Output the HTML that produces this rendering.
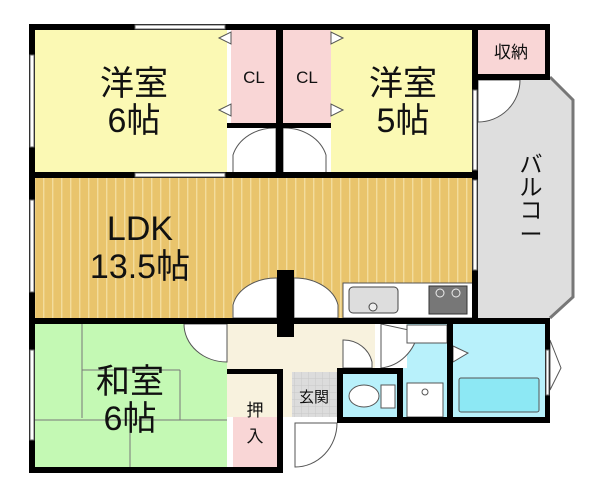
<!DOCTYPE html>
<html><head><meta charset="utf-8"><style>
html,body{margin:0;padding:0;background:#fff;width:600px;height:492px;overflow:hidden}
svg{display:block}
text{font-family:"Liberation Sans","Noto Sans CJK JP",sans-serif;fill:#111}
</style></head><body>
<svg width="600" height="492" viewBox="0 0 600 492" xmlns="http://www.w3.org/2000/svg">
<defs>
<pattern id="st" width="9" height="10" patternUnits="userSpaceOnUse">
<rect width="9" height="10" fill="#e9c46c"/><rect x="7" width="1.4" height="10" fill="#f3dc9c"/>
</pattern>
<pattern id="tile" width="7" height="7" patternUnits="userSpaceOnUse">
<rect width="7" height="7" fill="#dcdcdc"/><path d="M0 0H7M0 0V7" stroke="#c8c8c8" stroke-width="1"/>
</pattern>
</defs>
<!-- balcony -->
<polygon points="478,77 550,77 573,100 573,297 550,318 478,318" fill="#dedede"/>
<polyline points="550,77 573,100 573,297 550,318" fill="none" stroke="#777" stroke-width="3"/>
<!-- rooms -->
<rect x="35" y="30" width="192" height="143" fill="#fbf9b4"/>
<rect x="331" y="30" width="142" height="143" fill="#fbf9b4"/>
<rect x="231" y="30" width="45" height="94" fill="#f9d6d6"/>
<rect x="283" y="30" width="48" height="94" fill="#f9d6d6"/>
<rect x="478" y="30" width="67" height="45" fill="#f9d6d6"/>
<rect x="35" y="177" width="438" height="142" fill="url(#st)"/>
<rect x="35" y="324" width="192" height="144" fill="#c4f9b4"/>
<path d="M82 324V418M180 370V420M82 370H180M35 420H227M130 420V468" stroke="#777" stroke-width="1"/>
<rect x="233" y="374" width="44" height="94" fill="#f9d6d6"/>
<rect x="227" y="324" width="148" height="93" fill="#f8f2de"/>
<rect x="292" y="372" width="45" height="45" fill="url(#tile)"/>
<rect x="343" y="374" width="54" height="44" fill="#b8f1fb"/>
<rect x="381" y="324" width="66" height="94" fill="#b8f1fb"/>
<rect x="381" y="324" width="26" height="44" fill="#fff"/>
<rect x="453" y="324" width="92" height="94" fill="#b8f1fb"/>
<!-- door arcs -->
<g fill="#fff" stroke="#555" stroke-width="1">
<path d="M233 173V155A43 37 0 0 1 276 128V173Z"/>
<path d="M283 173V128A43 37 0 0 1 326 155V173Z"/>
<path d="M233 318V305A44 33 0 0 1 277 278V318Z"/>
<path d="M294 318V278A44 33 0 0 1 338 305V318Z"/>
<path d="M184 324A43 38 0 0 0 227 362V324Z"/>
<path d="M343 368V340A29 28 0 0 1 372 362V368Z"/>
<path d="M381 324V368A42 44 0 0 0 418 332Z"/>
<path d="M295 423V467A42 44 0 0 0 337 423Z"/>
<path d="M478 80V122A42 42 0 0 0 520 80Z"/>
<polygon points="219,38 231,32 231,44"/><polygon points="219,110 231,104 231,116"/>
<polygon points="343,38 331,32 331,44"/><polygon points="343,110 331,104 331,116"/>
<polygon points="453,346 468,353 453,362"/><polygon points="550,340 561,368 550,390"/>
</g>
<!-- kitchen -->
<rect x="343" y="283" width="130" height="35" fill="#fff" stroke="#555"/>
<rect x="349" y="287" width="49" height="26" rx="4" fill="#ddd" stroke="#444"/>
<circle cx="373" cy="307" r="4" fill="#eee" stroke="#444"/>
<rect x="429" y="286" width="38" height="28" fill="#777" stroke="#333"/>
<circle cx="440" cy="293" r="4" fill="none" stroke="#eee"/><circle cx="456" cy="293" r="4" fill="none" stroke="#eee"/>
<!-- fixtures -->
<rect x="407" y="325" width="40" height="18" fill="#fff" stroke="#555"/>
<rect x="407" y="383" width="36" height="34" fill="#fff" stroke="#555"/>
<circle cx="425" cy="392" r="3" fill="none" stroke="#555"/>
<ellipse cx="364" cy="396" rx="15" ry="11" fill="#fff" stroke="#555"/>
<rect x="381" y="385" width="14" height="23" fill="#fff" stroke="#555"/>
<rect x="459" y="378" width="80" height="34" rx="2" fill="#8de8f4" stroke="#555"/>
<!-- walls -->
<g fill="#000">
<rect x="29" y="24" width="521" height="6"/>
<rect x="29" y="24" width="6" height="449"/>
<rect x="545" y="24" width="5" height="56"/><rect x="472" y="24" width="6" height="300"/>
<rect x="472" y="74" width="78" height="6"/>
<rect x="29" y="172" width="449" height="6"/>
<rect x="227" y="123" width="104" height="5"/><rect x="276" y="30" width="7" height="148"/>
<rect x="29" y="318" width="521" height="6"/>
<rect x="277" y="270" width="17" height="67"/>
<rect x="29" y="467" width="254" height="6"/>
<rect x="277" y="369" width="6" height="104"/><rect x="227" y="369" width="56" height="5"/>
<rect x="337" y="368" width="66" height="6"/><rect x="337" y="368" width="6" height="55"/>
<rect x="397" y="368" width="6" height="55"/>
<rect x="337" y="417" width="213" height="6"/>
<rect x="447" y="324" width="6" height="99"/>
<rect x="545" y="318" width="5" height="105"/>
</g>
<!-- windows -->
<g fill="#fff" stroke="#666" stroke-width="1">
<rect x="135" y="25" width="90" height="4"/><rect x="135" y="173" width="90" height="4"/>
<rect x="30" y="55" width="4" height="92"/><rect x="30" y="200" width="4" height="92"/>
<rect x="30" y="350" width="4" height="90"/>
<rect x="473" y="90" width="4" height="80"/><rect x="473" y="180" width="4" height="90"/>
<rect x="546" y="350" width="3" height="45"/>
</g>
<!-- labels -->
<g font-size="34" text-anchor="middle">
<text x="134" y="95">洋室</text><text x="134" y="132">6帖</text>
<text x="403" y="95">洋室</text><text x="403" y="132">5帖</text>
<text x="140" y="240">LDK</text><text x="140" y="278">13.5帖</text>
<text x="130" y="393">和室</text><text x="130" y="430">6帖</text>
</g>
<g font-size="17" text-anchor="middle">
<text x="254" y="83">CL</text><text x="307" y="83">CL</text>
<text x="511" y="58">収納</text>
<text x="255" y="416">押</text><text x="255" y="442">入</text>
</g>
<text x="314" y="402" font-size="15" text-anchor="middle">玄関</text>
<g font-size="23" text-anchor="middle">
<text x="531" y="172">バ</text><text x="531" y="195">ル</text><text x="531" y="218">コ</text><text x="531" y="242">ー</text>
</g>
</svg>
</body></html>
